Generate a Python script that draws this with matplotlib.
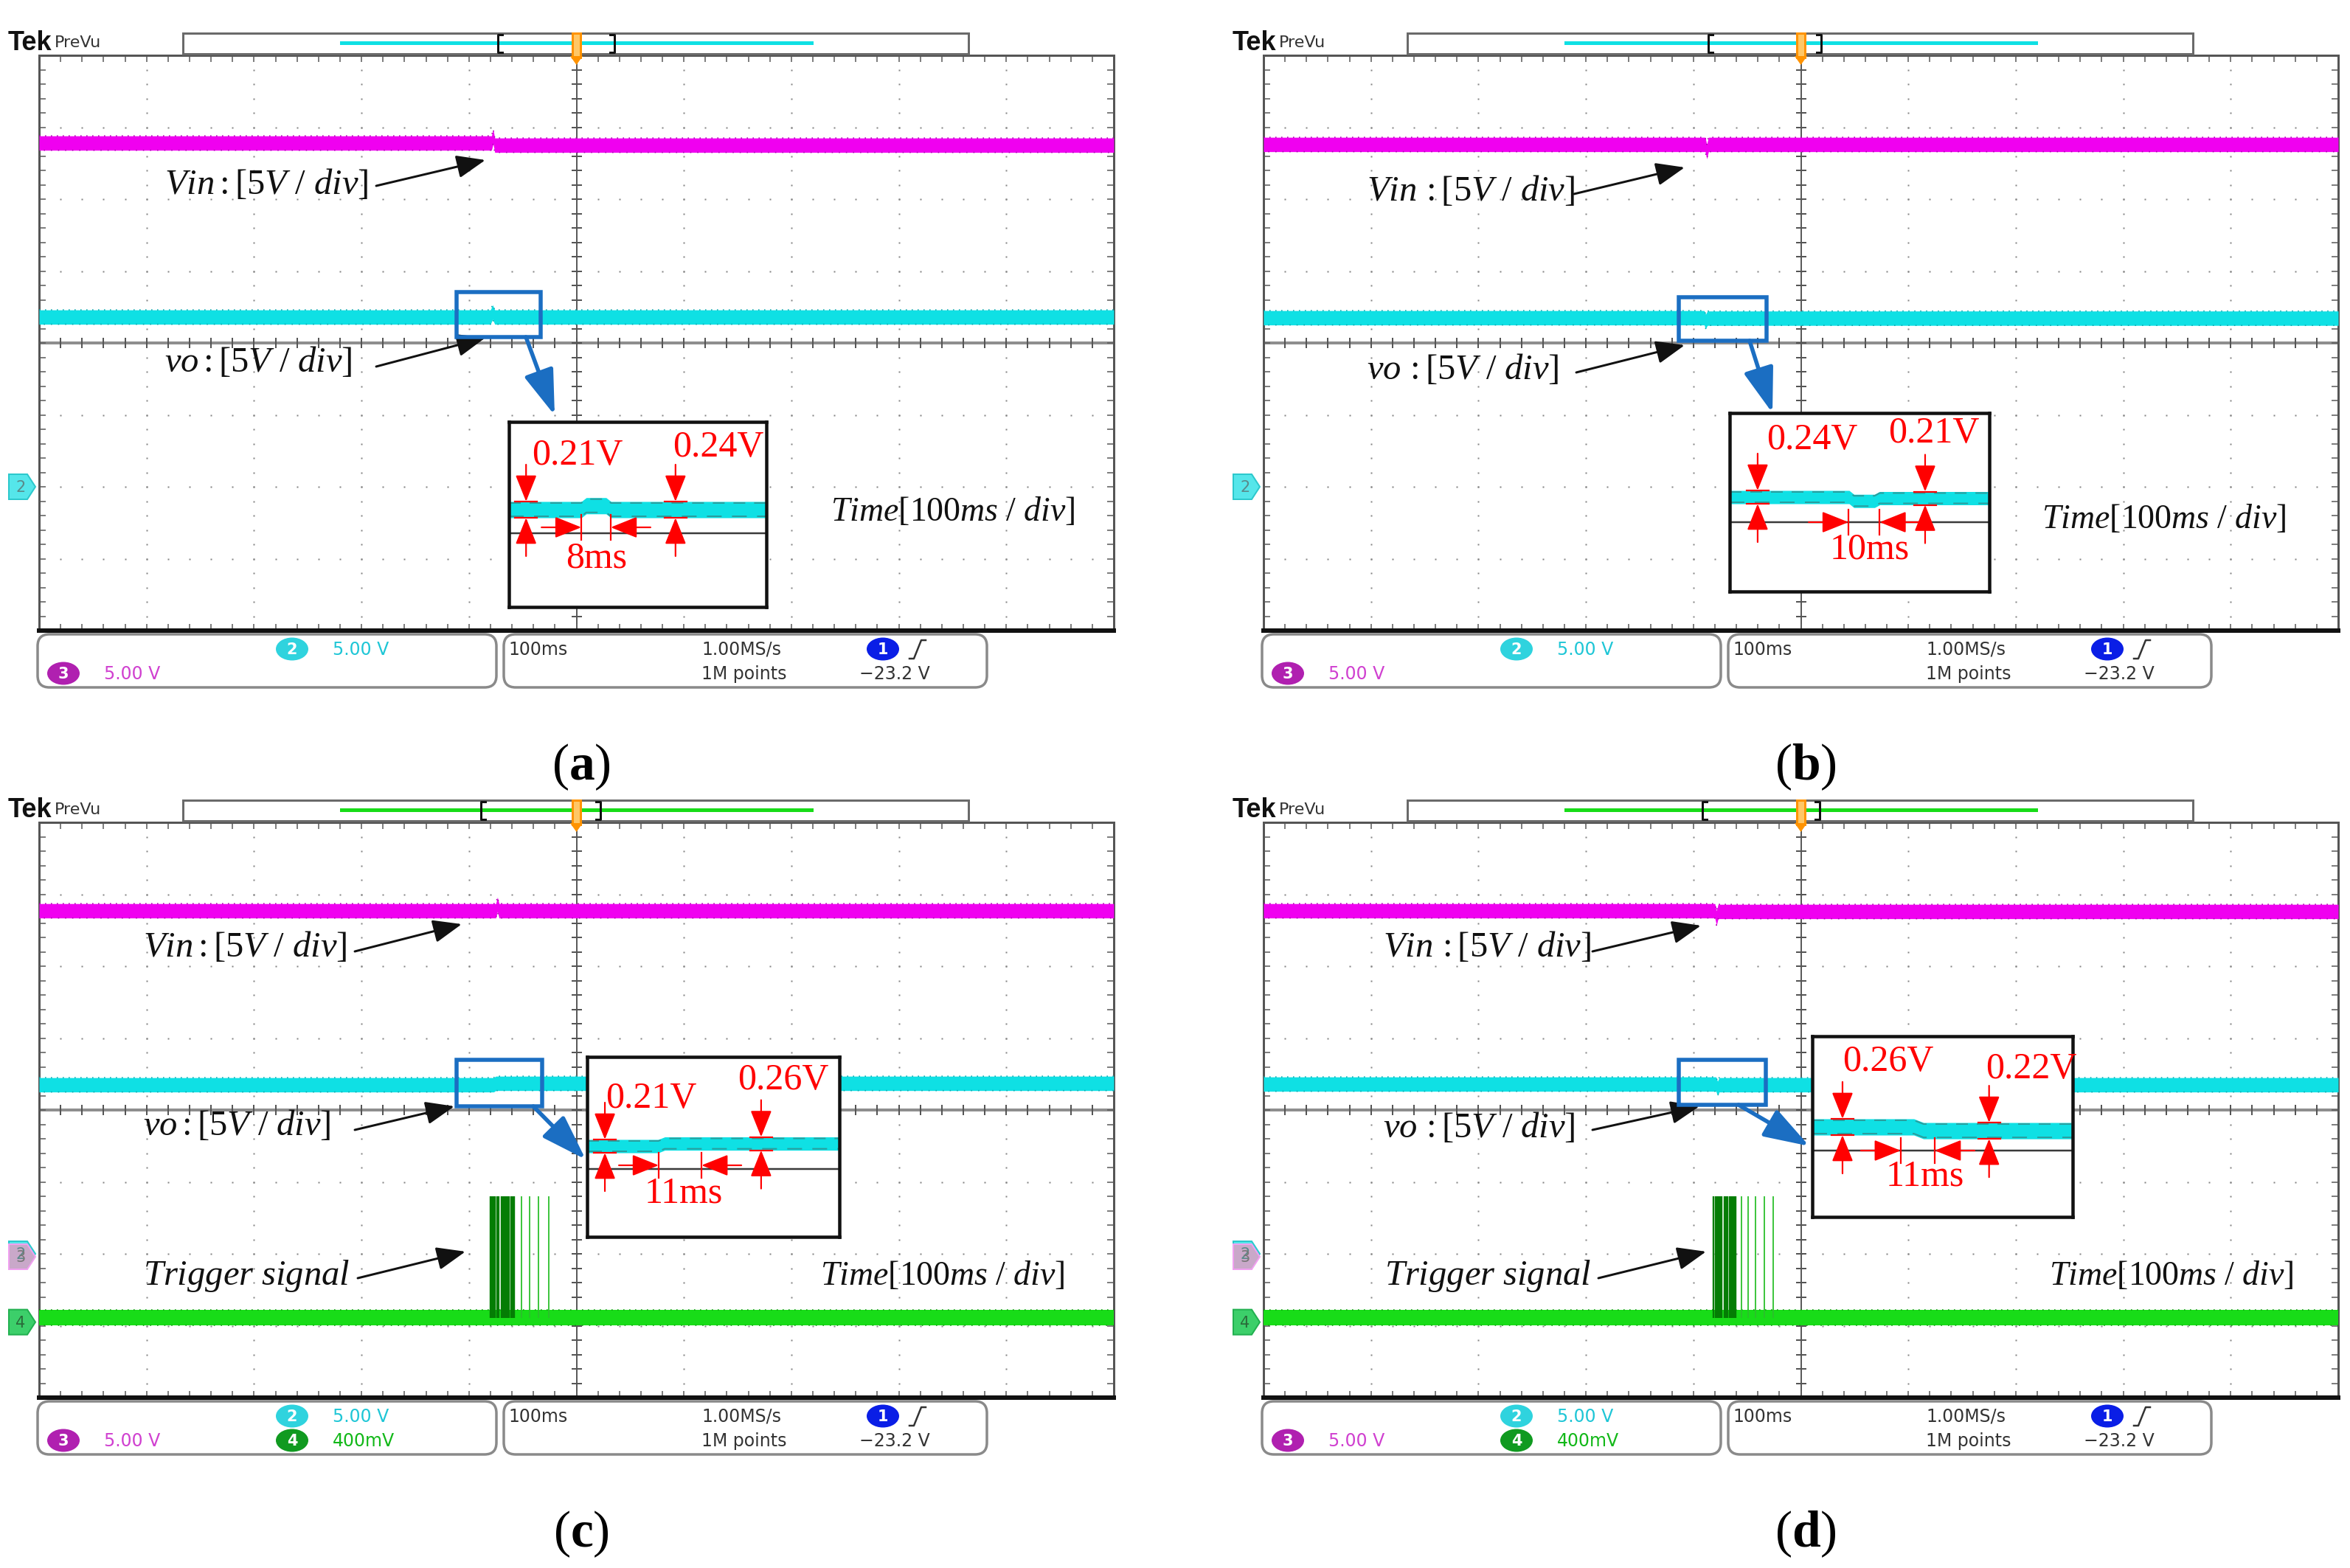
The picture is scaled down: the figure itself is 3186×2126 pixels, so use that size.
import numpy as np
import matplotlib
matplotlib.use('Agg')
import matplotlib.pyplot as plt
from matplotlib.transforms import Affine2D
from matplotlib.patches import Rectangle, FancyBboxPatch, Ellipse, Polygon, FancyArrowPatch
from matplotlib.lines import Line2D

plt.rcParams['mathtext.fontset'] = 'custom'
plt.rcParams['mathtext.rm'] = 'Liberation Serif'
plt.rcParams['mathtext.it'] = 'Liberation Serif:italic'
plt.rcParams['mathtext.bf'] = 'Liberation Serif:bold'

W, H = 3186, 2126

# ---------------- data ----------------
panels = ['a', 'b', 'c', 'd']
panel_offsets = {'a': (0, 0), 'b': (1660, 0), 'c': (0, 1040), 'd': (1660, 1040)}

# channel settings: volts per division and ground position (div from centre)
ch2_scale, ch2_offset = 5.0, -2.0     # vo  (cyan)
ch3_scale, ch3_offset = 5.0, -2.0     # Vin (magenta)
ch4_scale, ch4_offset = 0.4, -2.95    # trigger (green)
time_range = (-500, 500)              # ms, 100 ms/div

vin_t = {'a': [-500, -79, -77.5, -76, 500], 'b': [-500, -89, -87.5, -86, 500],
         'c': [-500, -75, -73.5, -72, 500], 'd': [-500, -80, -78.5, -77, 500]}
vin_v = {'a': [23.9, 23.9, 24.35, 23.75, 23.75], 'b': [23.8, 23.8, 23.3, 23.8, 23.8],
         'c': [23.85, 23.85, 24.3, 23.85, 23.85], 'd': [23.85, 23.85, 23.35, 23.8, 23.8]}
vin_noise_pp = 1.0

vo_t = {'a': [-500, -80, -78, -76, 500], 'b': [-500, -90, -88.5, -87, 500],
        'c': [-500, -77, -75, 500], 'd': [-500, -79, -77.5, -76, 500]}
vo_v = {'a': [11.8, 11.8, 12.15, 11.8, 11.8], 'b': [11.75, 11.75, 11.5, 11.72, 11.72],
        'c': [11.75, 11.75, 11.85, 11.85], 'd': [11.8, 11.8, 11.5, 11.75, 11.75]}
vo_noise_pp = 1.0

trig_level = 0.024
trig_noise_pp = 0.085
trig_amp = 0.7
trig_pulse_t = {
    'c': [-80, -78.5, -77, -75.5, -74, -72.5, -70, -68.5, -67, -65.5, -64, -62.5, -61, -59.5, -58,
          -51, -43.5, -35.5, -25.5],
    'd': [-81, -79.5, -78, -76.5, -75, -73.5, -71, -69.5, -68, -66.5, -65, -63.5, -62, -60.5,
          -55, -49, -42, -34, -26]}

# zoomed insets of vo
inset_t = {'a': [-111.5, -89.5, -88, -82, -80.5, -33.3],
           'b': [-113.6, -76, -74.5, -68, -66.4, -31.9],
           'c': [-111.5, -89, -87, -31.9],
           'd': [-113.6, -82, -79, -32.6]}
inset_v = {'a': [11.80, 11.80, 11.85, 11.85, 11.80, 11.80],
           'b': [11.80, 11.80, 11.73, 11.73, 11.78, 11.78],
           'c': [11.75, 11.75, 11.79, 11.79],
           'd': [11.85, 11.85, 11.79, 11.79]}
inset_pp = {'a': 0.21, 'b': 0.24, 'c': 0.21, 'd': 0.26}
ripple_t = {'a': [-106.3, -60.9], 'b': [-104.8, -52.1], 'c': [-105.9, -56.6], 'd': [-104.2, -58.6]}
ripple_label = {'a': ['0.21V', '0.24V'], 'b': ['0.24V', '0.21V'],
                'c': ['0.21V', '0.26V'], 'd': ['0.26V', '0.22V']}
event_t = {'a': [-89.5, -80.6], 'b': [-76.2, -66.4], 'c': [-88.9, -75.4], 'd': [-86.1, -75.5]}
event_label = {'a': '8ms', 'b': '10ms', 'c': '11ms', 'd': '11ms'}

info_left_top = ('2', '5.00 V')
info_left_bottom = [('3', '5.00 V'), ('4', '400mV')]
info_timebase = '100ms'
info_rate = '1.00MS/s'
info_points = '1M points'
info_trig = '\u221223.2 V'

# ---------------- layout (pixel positions relative to panel) ----------------
layout = {
    'a': dict(vin_text=(223, 249), vin_arrow=((510, 252), (658, 217)), vo_text=(223, 490),
              vo_arrow=((510, 497), (658, 458)), time_text=(1126, 693), box=(619, 396, 733, 457),
              blue_arrow=((713, 457), (752, 563)), inset=(690, 572, 1039, 823), k=105, band_px=691,
              ref_px=723, harrow_px=715, ripple_text=[(721, 618), (912, 607)], event_text=(809, 757),
              brackets=(675, 833), sep=''),
    'b': dict(vin_text=(193, 258), vin_arrow=((474, 263), (624, 227)), vo_text=(193, 500),
              vo_arrow=((477, 505), (624, 468)), time_text=(1108, 703), box=(616, 403, 735, 462),
              blue_arrow=((712, 462), (743, 560)), inset=(685, 560, 1037, 802), k=75, band_px=674,
              ref_px=708, harrow_px=708, ripple_text=[(735, 597), (900, 588)], event_text=(875, 745),
              brackets=(656, 809), sep=r'\,'),
    'c': dict(vin_text=(194, 243), vin_arrow=((481, 250), (626, 213)), vo_text=(194, 485),
              vo_arrow=((481, 492), (616, 460)), time_text=(1112, 690), box=(619, 397, 735, 460),
              blue_arrow=((723, 460), (794, 532)), inset=(796, 393, 1138, 637), k=86, band_px=514,
              ref_px=545, harrow_px=540, ripple_text=[(821, 450), (1000, 425)], event_text=(927, 578),
              brackets=(652, 814), trig_text=(194, 690), trig_arrow=((485, 693), (631, 657)), sep=''),
    'd': dict(vin_text=(215, 243), vin_arrow=((499, 250), (646, 215)), vo_text=(215, 488),
              vo_arrow=((499, 492), (644, 460)), time_text=(1118, 689), box=(616, 397, 734, 458),
              blue_arrow=((697, 458), (793, 514)), inset=(797, 365, 1150, 610), k=85, band_px=488,
              ref_px=520, harrow_px=520, ripple_text=[(838, 400), (1032, 410)], event_text=(950, 555),
              brackets=(648, 807), trig_text=(217, 690), trig_arrow=((507, 693), (653, 657)), sep=r'\,'),
}

CYAN = '#0fe0e4'
CYAN_EDGE = '#0aa8ae'
MAGENTA = '#f000f0'
MAGENTA_EDGE = '#b000b4'
GREEN = '#18dc18'
GREEN_EDGE = '#0c9c0c'
DKGREEN = '#047d04'
RED = '#ff0000'
BLUE = '#1b6ec2'
SCOPE_FONT = 'DejaVu Sans'
SERIF = 'Liberation Serif'


def pt(px):
    return px * 0.72


fig = plt.figure(figsize=(W / 100, H / 100), dpi=100)
fig.patch.set_facecolor('white')
T = Affine2D().scale(1.0 / W, -1.0 / H).translate(0, 1) + fig.transFigure


def fig_axes(x0, y0, x1, y1, **kw):
    return fig.add_axes([x0 / W, 1 - y1 / H, (x1 - x0) / W, (y1 - y0) / H], **kw)


def ftext(x, y, s, **kw):
    return fig.text(x, y, s, transform=T, **kw)


def farrow(p0, p1, color, lw, ms, hl, hw, z=4):
    fig.add_artist(FancyArrowPatch(p0, p1, transform=T,
                                   arrowstyle=f'-|>,head_length={hl},head_width={hw}',
                                   mutation_scale=ms, color=color, lw=pt(lw),
                                   shrinkA=0, shrinkB=0, zorder=z))


def band(ax, t, v, pp, scale, off, color, edge, z):
    t = np.asarray(t, float)
    v = np.asarray(v, float)
    lo = (v - pp / 2) / scale + off
    hi = (v + pp / 2) / scale + off
    ax.fill_between(t, lo, hi, color=color, lw=0, zorder=z)
    ax.plot(t, hi, color=edge, lw=pt(1.6), ls=(0, (1, 4)), zorder=z + 0.1)
    ax.plot(t, lo, color=edge, lw=pt(1.6), ls=(2, (1, 5)), zorder=z + 0.1)


def chan_marker(ox, oy, yc, fc, ec, txt, tc):
    poly = [(ox + 12, oy + yc - 17), (ox + 37, oy + yc - 17), (ox + 48, oy + yc),
            (ox + 37, oy + yc + 17), (ox + 12, oy + yc + 17)]
    fig.add_artist(Polygon(poly, closed=True, transform=T, fc=fc, ec=ec, lw=pt(2), zorder=3))
    ftext(ox + 28, oy + yc + 1, txt, ha='center', va='center', family=SCOPE_FONT,
          size=15, color=tc, zorder=4)


def badge(cx, cy, fc, txt):
    fig.add_artist(Ellipse((cx, cy), 44, 31, transform=T, fc=fc, ec='none', zorder=3))
    ftext(cx, cy + 1, txt, ha='center', va='center', family=SCOPE_FONT, size=15,
          color='white', weight='bold', zorder=4)


def div_y(v, ch_scale, ch_off):
    return v / ch_scale + ch_off


for key in panels:
    ox, oy = panel_offsets[key]
    L = layout[key]
    has_trig = key in trig_pulse_t

    # ---------- header ----------
    ftext(ox + 11, oy + 59, 'Tek', ha='left', va='center', family='Liberation Sans',
          weight='bold', size=26, color='#111')
    ftext(ox + 74, oy + 58, 'PreVu', ha='left', va='center', family=SCOPE_FONT,
          size=16, color='#333')
    fig.add_artist(Rectangle((ox + 248, oy + 45), 1065, 28, transform=T, fc='white',
                             ec='#6a6a6a', lw=pt(3), zorder=2))
    fig.add_artist(Line2D([ox + 463, ox + 1100], [oy + 58, oy + 58], transform=T,
                          color=GREEN if has_trig else CYAN, lw=pt(5), zorder=3))
    bl, br = L['brackets']
    fig.add_artist(Line2D([ox + bl + 6, ox + bl, ox + bl, ox + bl + 6],
                          [oy + 47, oy + 47, oy + 71, oy + 71], transform=T, color='#111',
                          lw=pt(3), zorder=3))
    fig.add_artist(Line2D([ox + br - 6, ox + br, ox + br, ox + br - 6],
                          [oy + 47, oy + 47, oy + 71, oy + 71], transform=T, color='#111',
                          lw=pt(3), zorder=3))
    fig.add_artist(Rectangle((ox + 776, oy + 45), 11, 33, transform=T, fc='#ffc766',
                             ec='#ff9300', lw=pt(3), zorder=3))
    fig.add_artist(Polygon([(ox + 773, oy + 76), (ox + 790, oy + 76), (ox + 781.5, oy + 88)],
                           transform=T, fc='#ff9300', ec='none', zorder=3))

    # ---------- main screen ----------
    ax = fig_axes(ox + 53, oy + 75, ox + 1510, oy + 855)
    ax.set_xlim(*time_range)
    ax.set_ylim(-4, 4)
    ax.set_facecolor('white')
    minor_x = np.arange(-500, 501, 20)
    minor_y = np.linspace(-4, 4, 41)
    for xv in range(-400, 401, 100):
        if xv != 0:
            ax.plot(np.full(minor_y.size, xv), minor_y, ls='none', marker='s', ms=pt(2.8),
                    mfc='#858585', mec='none', zorder=1)
    for yv in range(-3, 4):
        if yv != 0:
            ax.plot(minor_x, np.full(minor_x.size, yv), ls='none', marker='s', ms=pt(2.8),
                    mfc='#858585', mec='none', zorder=1)
    ax.axhline(0, color='#8e8e8e', lw=pt(4), zorder=1.2)
    ax.axvline(0, color='#5a5a5a', lw=pt(2), zorder=1.2)
    ax.plot(minor_x, np.zeros(minor_x.size), ls='none', marker='|', ms=pt(14), mew=pt(2),
            color='#555', zorder=1.3)
    ax.plot(np.zeros(minor_y.size), minor_y, ls='none', marker='_', ms=pt(14), mew=pt(2),
            color='#555', zorder=1.3)
    ax.set_xticks(minor_x)
    ax.set_yticks(minor_y)
    ax.tick_params(direction='in', length=pt(9), width=pt(1.6), color='#606060', top=True,
                   right=True, labelbottom=False, labelleft=False)
    for s in ['top', 'left', 'right']:
        ax.spines[s].set_color('#555')
        ax.spines[s].set_linewidth(pt(3))
    ax.spines['bottom'].set_color('#111')
    ax.spines['bottom'].set_linewidth(pt(6))

    band(ax, vin_t[key], vin_v[key], vin_noise_pp, ch3_scale, ch3_offset, MAGENTA, MAGENTA_EDGE, 3)
    band(ax, vo_t[key], vo_v[key], vo_noise_pp, ch2_scale, ch2_offset, CYAN, CYAN_EDGE, 3)
    if has_trig:
        band(ax, time_range, [trig_level, trig_level], trig_noise_pp, ch4_scale, ch4_offset,
             GREEN, GREEN_EDGE, 3)
        pt_arr = np.asarray(trig_pulse_t[key])
        dense = pt_arr < -56
        ax.vlines(pt_arr[dense], div_y(trig_level, ch4_scale, ch4_offset),
                  div_y(trig_amp, ch4_scale, ch4_offset), colors=DKGREEN, lw=pt(2.4), zorder=3.5)
        ax.vlines(pt_arr[~dense], div_y(trig_level, ch4_scale, ch4_offset),
                  div_y(trig_amp, ch4_scale, ch4_offset), colors='#2bbf2b', lw=pt(1.8), zorder=3.5)

    # channel markers on the left edge
    def ypix(dv):
        return 75 + (4 - dv) * 97.5
    chan_marker(ox, oy, ypix(ch2_offset), '#55e6ea', '#2cc8cc', '2', '#5a8a8a')
    if has_trig:
        chan_marker(ox, oy, ypix(ch3_offset) + 4, '#c9a8c9', '#f0a0f0', '3', '#777')
        chan_marker(ox, oy, ypix(ch4_offset), '#3ccf6a', '#22b050', '4', '#2a6a3a')

    # ---------- annotations on the screen ----------
    sep = L['sep']
    ftext(ox + L['vin_text'][0], oy + L['vin_text'][1], r'$Vin' + sep + r'{:}[5V\ /\ div]$',
          ha='left', va='center', size=35, color='#111', zorder=5)
    farrow((ox + L['vin_arrow'][0][0], oy + L['vin_arrow'][0][1]),
           (ox + L['vin_arrow'][1][0], oy + L['vin_arrow'][1][1]), '#111', 3, 30, 0.8, 0.32)
    ftext(ox + L['vo_text'][0], oy + L['vo_text'][1], r'$vo' + sep + r'{:}[5V\ /\ div]$',
          ha='left', va='center', size=35, color='#111', zorder=5)
    farrow((ox + L['vo_arrow'][0][0], oy + L['vo_arrow'][0][1]),
           (ox + L['vo_arrow'][1][0], oy + L['vo_arrow'][1][1]), '#111', 3, 30, 0.8, 0.32)
    ftext(ox + L['time_text'][0], oy + L['time_text'][1], r'$Time[100ms\ /\ div]$',
          ha='left', va='center', size=33, color='#111', zorder=5)
    if has_trig:
        ftext(ox + L['trig_text'][0], oy + L['trig_text'][1], r'$Trigger\ signal$',
              ha='left', va='center', size=35, color='#111', zorder=5)
        farrow((ox + L['trig_arrow'][0][0], oy + L['trig_arrow'][0][1]),
               (ox + L['trig_arrow'][1][0], oy + L['trig_arrow'][1][1]), '#111', 3, 30, 0.8, 0.32)

    bx0, by0, bx1, by1 = L['box']
    fig.add_artist(Rectangle((ox + bx0, oy + by0), bx1 - bx0, by1 - by0, transform=T,
                             fill=False, ec=BLUE, lw=pt(5.5), zorder=4))
    farrow((ox + L['blue_arrow'][0][0], oy + L['blue_arrow'][0][1]),
           (ox + L['blue_arrow'][1][0], oy + L['blue_arrow'][1][1]), BLUE, 5.5, 42, 0.9, 0.3)

    # ---------- inset ----------
    x0, y0, x1, y1 = L['inset']
    axi = fig_axes(ox + x0, oy + y0, ox + x1, oy + y1, zorder=2)
    t_in = np.asarray(inset_t[key], float)
    v_in = np.asarray(inset_v[key], float)
    pp = inset_pp[key]
    k = L['k']
    cpx = L['band_px']
    vc = v_in[0]
    axi.set_xlim(t_in[0], t_in[-1])
    axi.set_ylim(vc - (y1 - cpx) / k, vc + (cpx - y0) / k)
    axi.set_xticks([])
    axi.set_yticks([])
    axi.set_facecolor('white')
    for s in axi.spines.values():
        s.set_color('#111')
        s.set_linewidth(pt(4.5))
    mpp = (t_in[-1] - t_in[0]) / (x1 - x0)
    vref = vc - (L['ref_px'] - cpx) / k
    axi.axhline(vref, color='#3a3a3a', lw=pt(2.5), zorder=1)
    axi.fill_between(t_in, v_in - pp / 2, v_in + pp / 2, color=CYAN, lw=0, zorder=2)
    axi.plot(t_in, v_in + pp / 2 - 2 / k, color='#2a9d9d', lw=pt(2), ls=(0, (8, 6)), zorder=2.1)
    axi.plot(t_in, v_in - pp / 2 + 2 / k, color='#2a9d9d', lw=pt(2), ls=(0, (10, 7)), zorder=2.1)

    red_arrow = dict(arrowstyle='-|>,head_length=0.75,head_width=0.3', mutation_scale=30,
                     color=RED, lw=pt(2.2), shrinkA=0, shrinkB=0)
    for tr, lab, (lx, ly) in zip(ripple_t[key], ripple_label[key], L['ripple_text']):
        vtr = np.interp(tr, t_in, v_in)
        top, bot = vtr + pp / 2, vtr - pp / 2
        hw = 15 * mpp
        axi.plot([tr - hw, tr + hw], [top, top], color=RED, lw=pt(2.2), zorder=3)
        axi.plot([tr - hw, tr + hw], [bot, bot], color=RED, lw=pt(2.2), zorder=3)
        axi.annotate('', xy=(tr, top), xytext=(0, 50), textcoords='offset pixels',
                     arrowprops=red_arrow, zorder=3)
        axi.annotate('', xy=(tr, bot), xytext=(0, -52), textcoords='offset pixels',
                     arrowprops=red_arrow, zorder=3)
        ftext(ox + lx, oy + ly, lab, ha='left', va='center', family=SERIF, size=36,
              color=RED, zorder=6)
    ya = vc - (L['harrow_px'] - cpx) / k
    es, ee = event_t[key]
    axi.annotate('', xy=(es, ya), xytext=(-54, 0), textcoords='offset pixels',
                 arrowprops=red_arrow, zorder=3)
    axi.annotate('', xy=(ee, ya), xytext=(54, 0), textcoords='offset pixels',
                 arrowprops=red_arrow, zorder=3)
    for te in (es, ee):
        axi.plot([te, te], [ya - 17 / k, ya + 17 / k], color=RED, lw=pt(2.2), zorder=3)
    ftext(ox + L['event_text'][0], oy + L['event_text'][1], event_label[key], ha='center',
          va='center', family=SERIF, size=36, color=RED, zorder=6)

    # ---------- info bar ----------
    for (bx, bw) in [(51, 622), (683, 655)]:
        fig.add_artist(FancyBboxPatch((ox + bx, oy + 860), bw, 72,
                                      boxstyle='round,pad=0,rounding_size=16', transform=T,
                                      fc='white', ec='#8a8a8a', lw=pt(3.5), zorder=2))
    badge(ox + 396, oy + 880, '#2fd3de', info_left_top[0])
    ftext(ox + 451, oy + 881, info_left_top[1], ha='left', va='center', family=SCOPE_FONT,
          size=17, color='#1ec6d6', zorder=4)
    badge(ox + 86, oy + 913, '#b020b0', info_left_bottom[0][0])
    ftext(ox + 141, oy + 914, info_left_bottom[0][1], ha='left', va='center', family=SCOPE_FONT,
          size=17, color='#d040d0', zorder=4)
    if has_trig:
        badge(ox + 396, oy + 913, '#109a20', info_left_bottom[1][0])
        ftext(ox + 451, oy + 914, info_left_bottom[1][1], ha='left', va='center',
              family=SCOPE_FONT, size=17, color='#12b818', zorder=4)
    ftext(ox + 689, oy + 881, info_timebase, ha='left', va='center', family=SCOPE_FONT,
          size=17, color='#333', zorder=4)
    ftext(ox + 951, oy + 881, info_rate, ha='left', va='center', family=SCOPE_FONT,
          size=17, color='#333', zorder=4)
    ftext(ox + 951, oy + 914, info_points, ha='left', va='center', family=SCOPE_FONT,
          size=17, color='#333', zorder=4)
    badge(ox + 1197, oy + 880, '#0a1ee6', '1')
    fig.add_artist(Line2D([ox + 1233, ox + 1239, ox + 1249, ox + 1255],
                          [oy + 893, oy + 893, oy + 868, oy + 868], transform=T,
                          color='#333', lw=pt(2.5), zorder=4))
    ftext(ox + 1165, oy + 914, info_trig, ha='left', va='center', family=SCOPE_FONT,
          size=17, color='#333', zorder=4)

    # ---------- panel label ----------
    ftext(ox + 788, oy + 1040, r'$(\mathbf{' + key + r'})$', ha='center', va='center',
          size=50, color='#000', zorder=5)

fig.savefig('out.png', dpi=100, facecolor='white')
